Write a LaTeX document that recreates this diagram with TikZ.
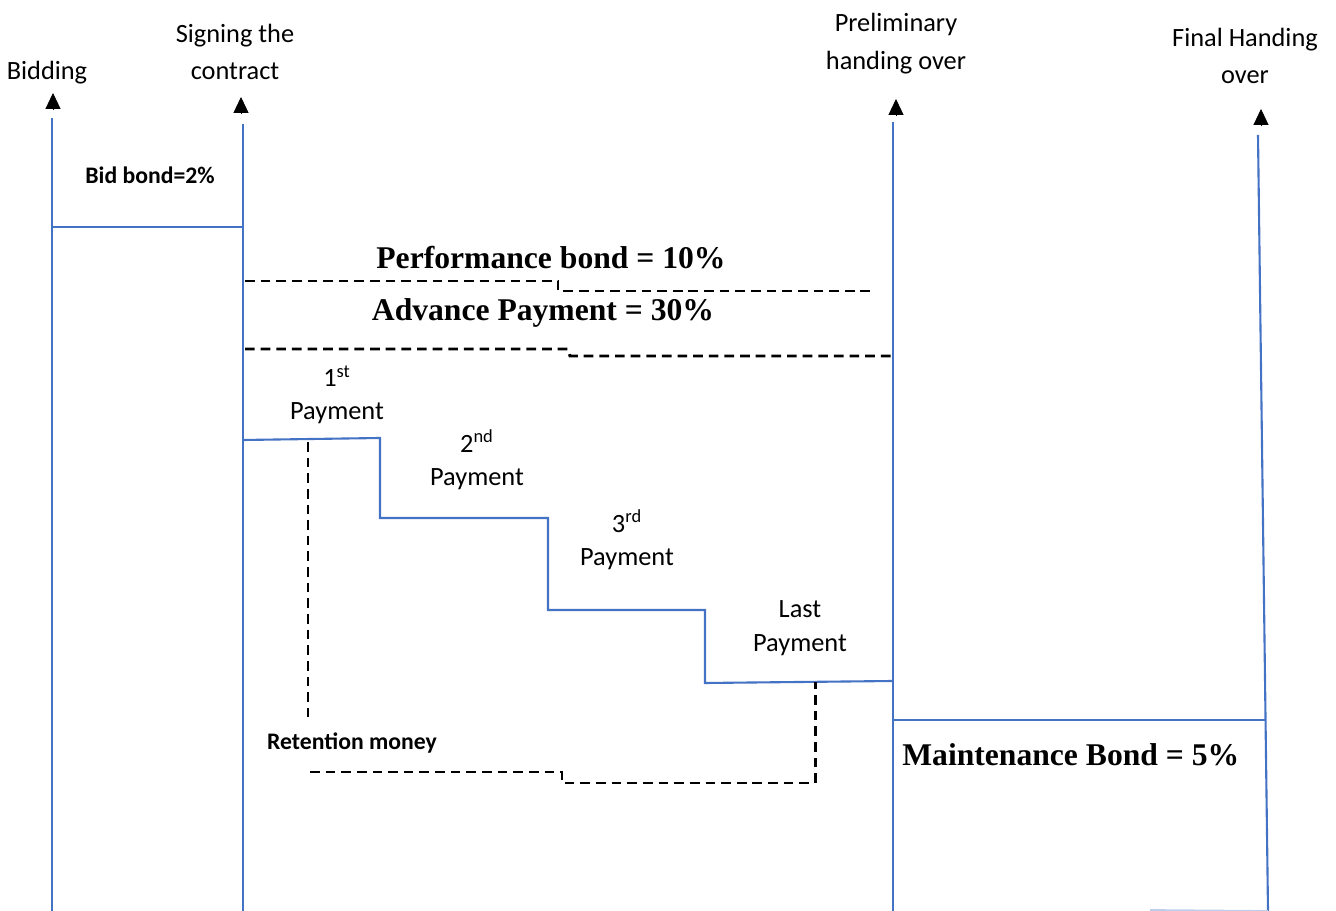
\documentclass[tikz,border=0pt]{standalone}
\usepackage{fontspec}
\setmainfont{Carlito}
\newfontfamily\serifbold{Liberation Serif}
\usetikzlibrary{arrows.meta}

\definecolor{msBlue}{RGB}{68,114,196}

\tikzset{
  milestone/.style={msBlue, line width=1.2pt},
  bonddash/.style={black, line width=1.7pt, dash pattern=on 5.5pt off 3.4pt},
  tipmark/.style={black, -{Triangle[width=8.5pt,length=9pt]}},
  toplbl/.style={align=center, inner sep=0pt, font=\fontsize{15}{21.5}\selectfont},
  paylbl/.style={align=center, inner sep=0pt, font=\fontsize{15}{19}\selectfont},
  smallbold/.style={inner sep=0pt, font=\fontsize{13.5}{16}\selectfont\bfseries},
  bondlbl/.style={inner sep=0pt, font=\fontsize{18}{22}\serifbold\bfseries}
}

\begin{document}
\begin{tikzpicture}[x=0.02cm, y=-0.02cm]
\useasboundingbox (0,0) rectangle (1336,911);
%% ---- Milestones ----
\foreach \n/\xt/\yt/\xb in {bid/52/118/52, sign/243/124/243, prel/893/122/893, fin/1258/135/1268}
  \draw[milestone] (\xt,\yt) coordinate (\n Top) -- (\xb,911) coordinate (\n Bot);
\foreach \x/\y in {53/109, 241/113, 896/115, 1261/125}
  \draw[tipmark] (\x,\y) -- (\x,\y-16);
\draw[msBlue!35, line width=1pt] (1150,910) -- (finBot);
\node[toplbl] (bidding) at (47,73) {Bidding};
\node[toplbl] (signing) at (235,52) {Signing the\\contract};
\node[toplbl] (prelim) at (896,44) {Preliminary\\handing over};
\node[toplbl] (final) at (1245,56) {Final Handing\\over};
%% ---- Bid bond ----
\draw[milestone] (52,227) coordinate (bidL) -- (243,227) coordinate (bidR);
\node[smallbold] (bidbond) at (150,175) {Bid bond=2\%};
%% ---- Performance bond and advance payment ----
\draw[bonddash] (245,281) -- (558,281) -- (558,291) -- (875,291);
\draw[bonddash] (245,349) -- (568,349) -- (570,356) -- (893,356);
\node[bondlbl] (perf) at (551,258) {Performance bond = 10\%};
\node[bondlbl] (adv) at (543,313) {Advance Payment = 30\%};
%% ---- Payments ----
\draw[milestone] (243,440) -- (380,438) -- (380,518) -- (548,518) -- (548,610)
  -- (705,610) -- (705,683) -- (893,681);
\node[paylbl] (pay1) at (337,395) {1\textsuperscript{st}\\Payment};
\node[paylbl] (pay2) at (477,460) {2\textsuperscript{nd}\\Payment};
\node[paylbl] (pay3) at (627,540) {3\textsuperscript{rd}\\Payment};
\node[paylbl] (payL) at (800,628) {Last\\Payment};
%% ---- Retention money ----
\draw[bonddash] (308,442) -- (308,718);
\draw[bonddash] (310,772) -- (562,772) -- (562,783) -- (815,783) -- (815,682);
\node[smallbold] (retain) at (352,743) {Retention money};
%% ---- Maintenance bond ----
\draw[milestone] (893,720) coordinate (mntL) -- (1266,720) coordinate (mntR);
\node[bondlbl, anchor=west] (mnt) at (902,755) {Maintenance Bond = 5\%};
\end{tikzpicture}
\end{document}
